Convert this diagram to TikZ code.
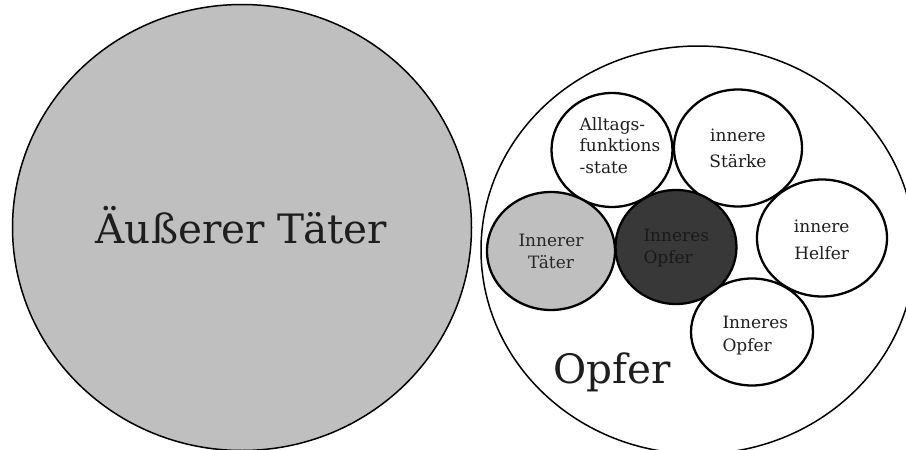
\documentclass[tikz,border=0pt]{standalone}
\usepackage{fontspec}
\setmainfont{DejaVu Serif}
\usetikzlibrary{shapes.geometric}
\definecolor{lightfill}{HTML}{BFBFBF}
\definecolor{darkfill}{HTML}{383838}
\definecolor{txt}{HTML}{1E1E1E}
\tikzset{
  bigcirc/.style={draw=black, line width=1.5pt, ellipse, inner sep=0pt},
  smallcirc/.style={draw=black, line width=2.3pt, ellipse, inner sep=0pt},
  bigtext/.style={font=\fontsize{40.5}{48}\selectfont, text=txt, inner sep=0pt, anchor=base},
  smalltext/.style={font=\fontsize{17}{21.7}\selectfont, text=txt, inner sep=0pt, anchor=base},
}
\begin{document}
\begin{tikzpicture}[x=1pt,y=-1pt]
\useasboundingbox (0,0) rectangle (906,450);
\begin{scope}
\clip (0,0) rectangle (906,450);
% left big
\node[bigcirc, fill=lightfill, minimum width=459pt, minimum height=446pt] (outer) at (242,227.5) {};
\node[bigtext] (outertext) at (241.5,243) {Äußerer Täter};
% right big
\node[bigcirc, fill=white, minimum width=434pt, minimum height=408pt] (victim) at (698,250) {};
\end{scope}
\node[bigtext] (victimtext) at (612,383.3) {Opfer};
% small circles
\node[smallcirc, minimum width=121pt, minimum height=114pt] (alltag) at (612,150) {};
\node[smallcirc, minimum width=128pt, minimum height=117pt] (staerke) at (738,148) {};
\node[smallcirc, minimum width=130pt, minimum height=117pt] (helfer) at (822,238) {};
\node[smallcirc, minimum width=122pt, minimum height=107pt] (opfer2) at (752,332) {};
\node[smallcirc, fill=lightfill, minimum width=128pt, minimum height=118pt] (taeter) at (551,251) {};
\node[smallcirc, fill=darkfill, minimum width=121pt, minimum height=114pt] (opfer1) at (676,247) {};
% texts (anchor base = baseline of last line)
\node[smalltext, anchor=base west, align=left] (alltagtext) at (579.5,173.4) {Alltags-\\funktions\\-state};
\node[smalltext, align=center] (staerketext) at (738,167.3) {innere\\[3.9pt]Stärke};
\node[smalltext, align=center, text=black!85] (taetertext) at (551,268.4) {Innerer\\Täter};
\node[smalltext, anchor=base west, align=left, text=black!90] (opfer1text) at (643.3,263.4) {Inneres\\Opfer};
\node[smalltext, align=center] (helfertext) at (821.7,259) {innere\\[5.3pt]Helfer};
\node[smalltext, anchor=base west, align=left] (opfer2text) at (722.3,351.6) {Inneres\\[1.3pt]Opfer};
\end{tikzpicture}
\end{document}
